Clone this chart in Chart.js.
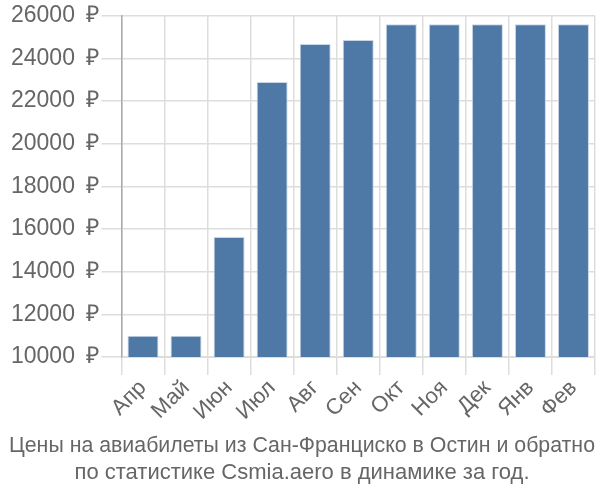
<!DOCTYPE html>
<html>
<head>
    <title>Цены на авиабилеты</title>
    <script src="https://cdn.jsdelivr.net/npm/chart.js"></script>
    <style>
        body { margin: 0; background: #fff; }
    </style>
</head>
<body>
    <canvas id="priceChart" width="600" height="500"></canvas>
    <script>
        // months and prices
        const months = ['Апр', 'Май', 'Июн', 'Июл', 'Авг', 'Сен', 'Окт', 'Ноя', 'Дек', 'Янв', 'Фев'];
        const prices = [11000, 11000, 15630, 22900, 24680, 24870, 25600, 25600, 25600, 25600, 25600];
        const yMin = 10000, yMax = 26000, yStep = 2000;
        const titleLines = [
            'Цены на авиабилеты из Сан-Франциско в Остин и обратно',
            'по статистике Csmia.aero в динамике за год.'
        ];

        Chart.defaults.font.family = '"Liberation Sans", Arial, sans-serif';
        Chart.defaults.color = '#666';

        const ctx = document.getElementById('priceChart').getContext('2d');
        new Chart(ctx, {
            type: 'bar',
            data: {
                labels: months,
                datasets: [{
                    data: prices,
                    backgroundColor: '#4e79a7',
                    borderColor: '#c9d6e6',
                    borderWidth: 1,
                    categoryPercentage: 0.72,
                    barPercentage: 1.0
                }]
            },
            options: {
                responsive: false,
                animation: false,
                layout: { padding: { top: 6, right: 5, left: 9, bottom: 14 } },
                plugins: {
                    legend: { display: false },
                    tooltip: { enabled: false },
                    title: {
                        display: true,
                        position: 'bottom',
                        text: titleLines,
                        color: '#666',
                        font: { size: 22, weight: 'normal', lineHeight: 1.22 },
                        padding: { top: 7, bottom: 0 }
                    }
                },
                scales: {
                    x: {
                        grid: { color: '#ddd', lineWidth: 1.5, tickLength: 18 },
                        border: { color: '#ddd' },
                        ticks: {
                            font: { size: 22 },
                            minRotation: 45,
                            maxRotation: 45,
                            autoSkip: false,
                            padding: 0
                        }
                    },
                    y: {
                        min: yMin,
                        max: yMax,
                        grid: { color: '#ddd', lineWidth: 1.5, tickLength: 20 },
                        border: { color: '#aaa', width: 1.5 },
                        ticks: {
                            stepSize: yStep,
                            font: { size: 23 },
                            padding: 2,
                            callback: v => v + '\u2002₽'
                        }
                    }
                }
            }
        });
    </script>
</body>
</html>
